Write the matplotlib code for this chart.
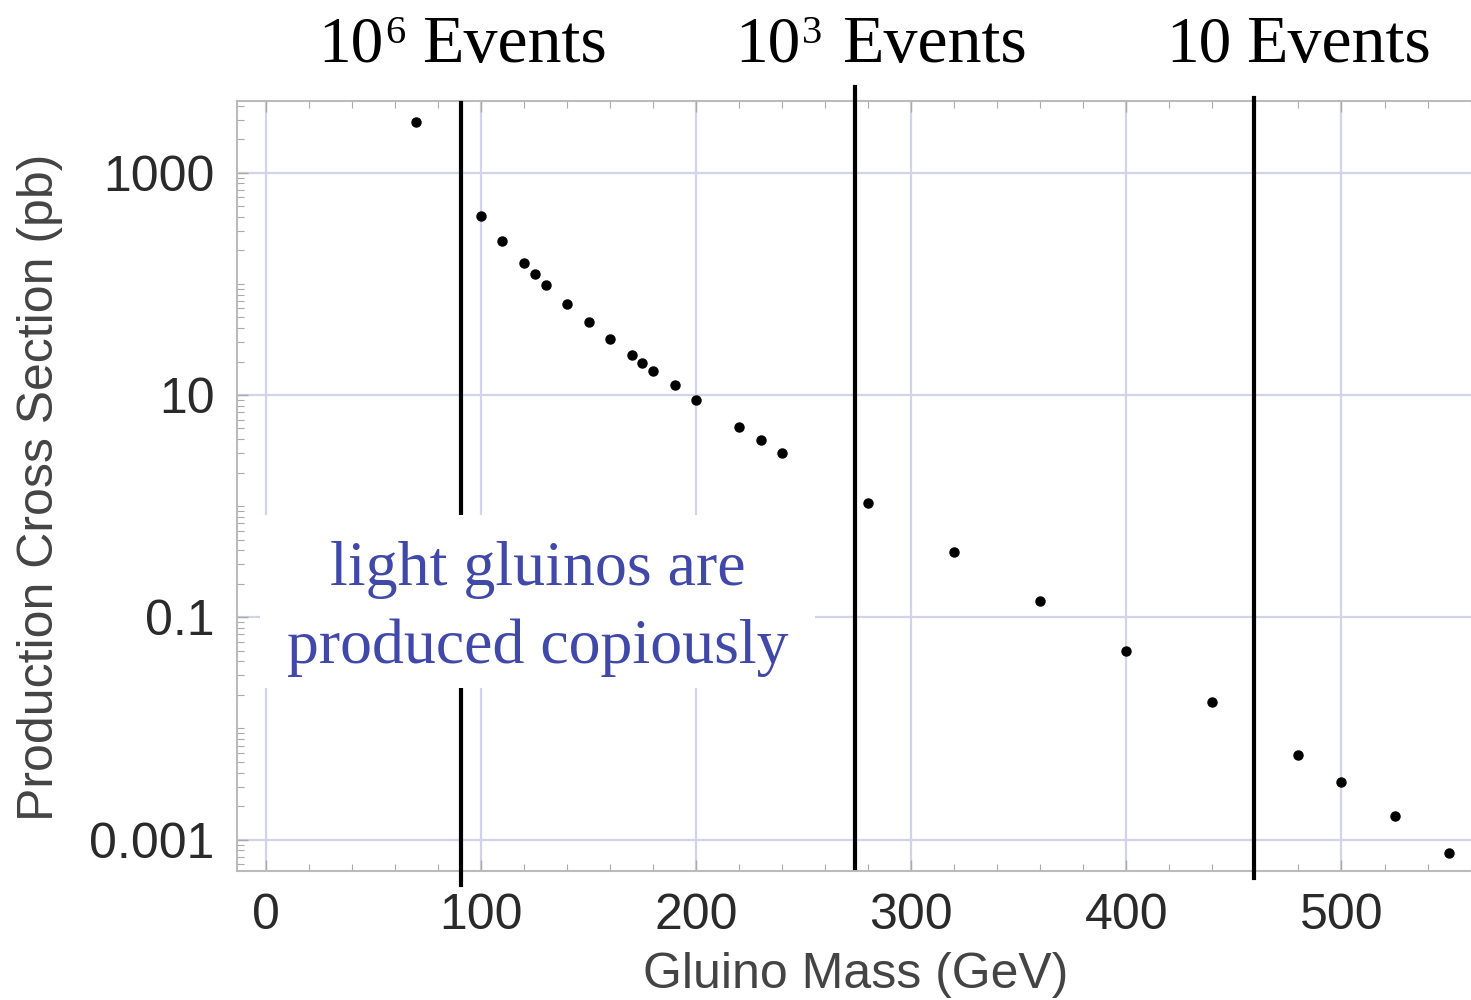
import numpy as np
import matplotlib
matplotlib.use('Agg')
import matplotlib.pyplot as plt
from matplotlib.patches import Rectangle
from matplotlib.ticker import FixedLocator, FixedFormatter, LogLocator, MultipleLocator, NullFormatter

# Gluino pair production cross section vs mass
mass = [70, 100, 110, 120, 125, 130, 140, 150, 160, 170, 175, 180, 190, 200,
        220, 230, 240, 280, 320, 360, 400, 440, 480, 500, 525, 550]
xsec = [2860, 410, 244, 153, 122, 98, 66, 45.7, 31.9, 22.9, 19.4, 16.4, 12.3, 9.1,
        5.2, 3.93, 3.03, 1.06, 0.385, 0.139, 0.0498, 0.0174, 0.0058, 0.00332, 0.00163, 0.00076]

# Event-count thresholds: mass, base, exponent
event_mass = [90.5, 274, 459.5]
event_base = ['10', '10', '10']
event_exp = ['6', '3', '']

y_ticks = [1e-3, 1e-1, 10, 1000]
y_ticklabels = ['0.001', '0.1', '10', '1000']
x_ticks = [0, 100, 200, 300, 400, 500]

W, H = 1471, 1000
fig = plt.figure(figsize=(W / 100, H / 100), dpi=100)
ax = fig.add_axes([237 / W, (H - 871) / H, (W - 237) / W, 770 / H])

sans = 'Liberation Sans'
serif = 'Liberation Serif'

ax.plot(mass, xsec, 'o', color='black', markersize=6.5, zorder=3)

ax.set_yscale('log')
ax.set_xlim(-13.4, 560.2)
ax.set_ylim(10 ** -3.283, 10 ** 3.645)

ax.yaxis.set_major_locator(FixedLocator(y_ticks))
ax.yaxis.set_major_formatter(FixedFormatter(y_ticklabels))
ax.yaxis.set_minor_locator(LogLocator(base=10, subs=np.arange(1, 10), numticks=20))
ax.yaxis.set_minor_formatter(NullFormatter())
ax.xaxis.set_major_locator(FixedLocator(x_ticks))
ax.xaxis.set_minor_locator(MultipleLocator(20))

ax.grid(True, which='major', color='#d2d3e8', linewidth=1.6, zorder=0)
ax.set_axisbelow(True)

ax.tick_params(which='both', direction='in', colors='#aaaaaa', top=True, right=False)
ax.tick_params(which='major', length=8, width=1)
ax.tick_params(which='minor', length=5, width=0.8)
ax.tick_params(axis='x', which='major', pad=16, labelsize=36, labelcolor='#2a2a2a')
ax.tick_params(axis='y', which='major', pad=16, labelsize=36, labelcolor='#2a2a2a')
for lab in ax.get_xticklabels() + ax.get_yticklabels():
    lab.set_fontfamily(sans)

for side in ['left', 'bottom', 'top']:
    ax.spines[side].set_color('#bbbbbb')
    ax.spines[side].set_linewidth(1.5)
ax.spines['right'].set_visible(False)

# vertical threshold lines, partly spilling past the frame
line_spans = [(-0.018, 0.997), (0.004, 1.018), (-0.009, 1.004)]
tr = ax.get_xaxis_transform()
for m, (y0, y1) in zip(event_mass, line_spans):
    ax.plot([m, m], [y0, y1], color='black', linewidth=3, transform=tr,
            clip_on=False, zorder=4)

# headings: base, small raised exponent right after it, then "Events"
renderer = fig.canvas.get_renderer()
base_x = [318, 735, 1166]
word_x = [422, 842, 1246]
for b, e, bx, wx in zip(event_base, event_exp, base_x, word_x):
    t = fig.text(bx / W, (H - 62) / H, b, ha='left', va='baseline',
                 fontsize=47, family=serif, color='black')
    if e:
        x_end = t.get_window_extent(renderer).x1
        fig.text((x_end + 2) / W, (H - 43) / H, e, ha='left', va='baseline',
                 fontsize=29, family=serif, color='black')
    fig.text(wx / W, (H - 62) / H, 'Events', ha='left', va='baseline',
             fontsize=49, family=serif, color='black')

fig.text(856 / W, (H - 988) / H, 'Gluino Mass (GeV)', ha='center', va='baseline',
         fontsize=36, family=sans, color='#444444')
fig.text(40 / W, (H - 487) / H, 'Production Cross Section (pb)', rotation=90,
         ha='center', va='center', fontsize=36, family=sans, color='#444444')

# annotation box over the low-mass region
fig.add_artist(Rectangle((260 / W, (H - 688) / H), (815 - 260) / W, 173 / H,
                         transform=fig.transFigure, facecolor='white',
                         edgecolor='none', zorder=5))
for yb, txt in zip([585, 663], ['light gluinos are', 'produced copiously']):
    fig.text(537.5 / W, (H - yb) / H, txt, ha='center', va='baseline',
             fontsize=46, family=serif, color='#4048a8', zorder=6)

fig.savefig('out.png', dpi=100)
